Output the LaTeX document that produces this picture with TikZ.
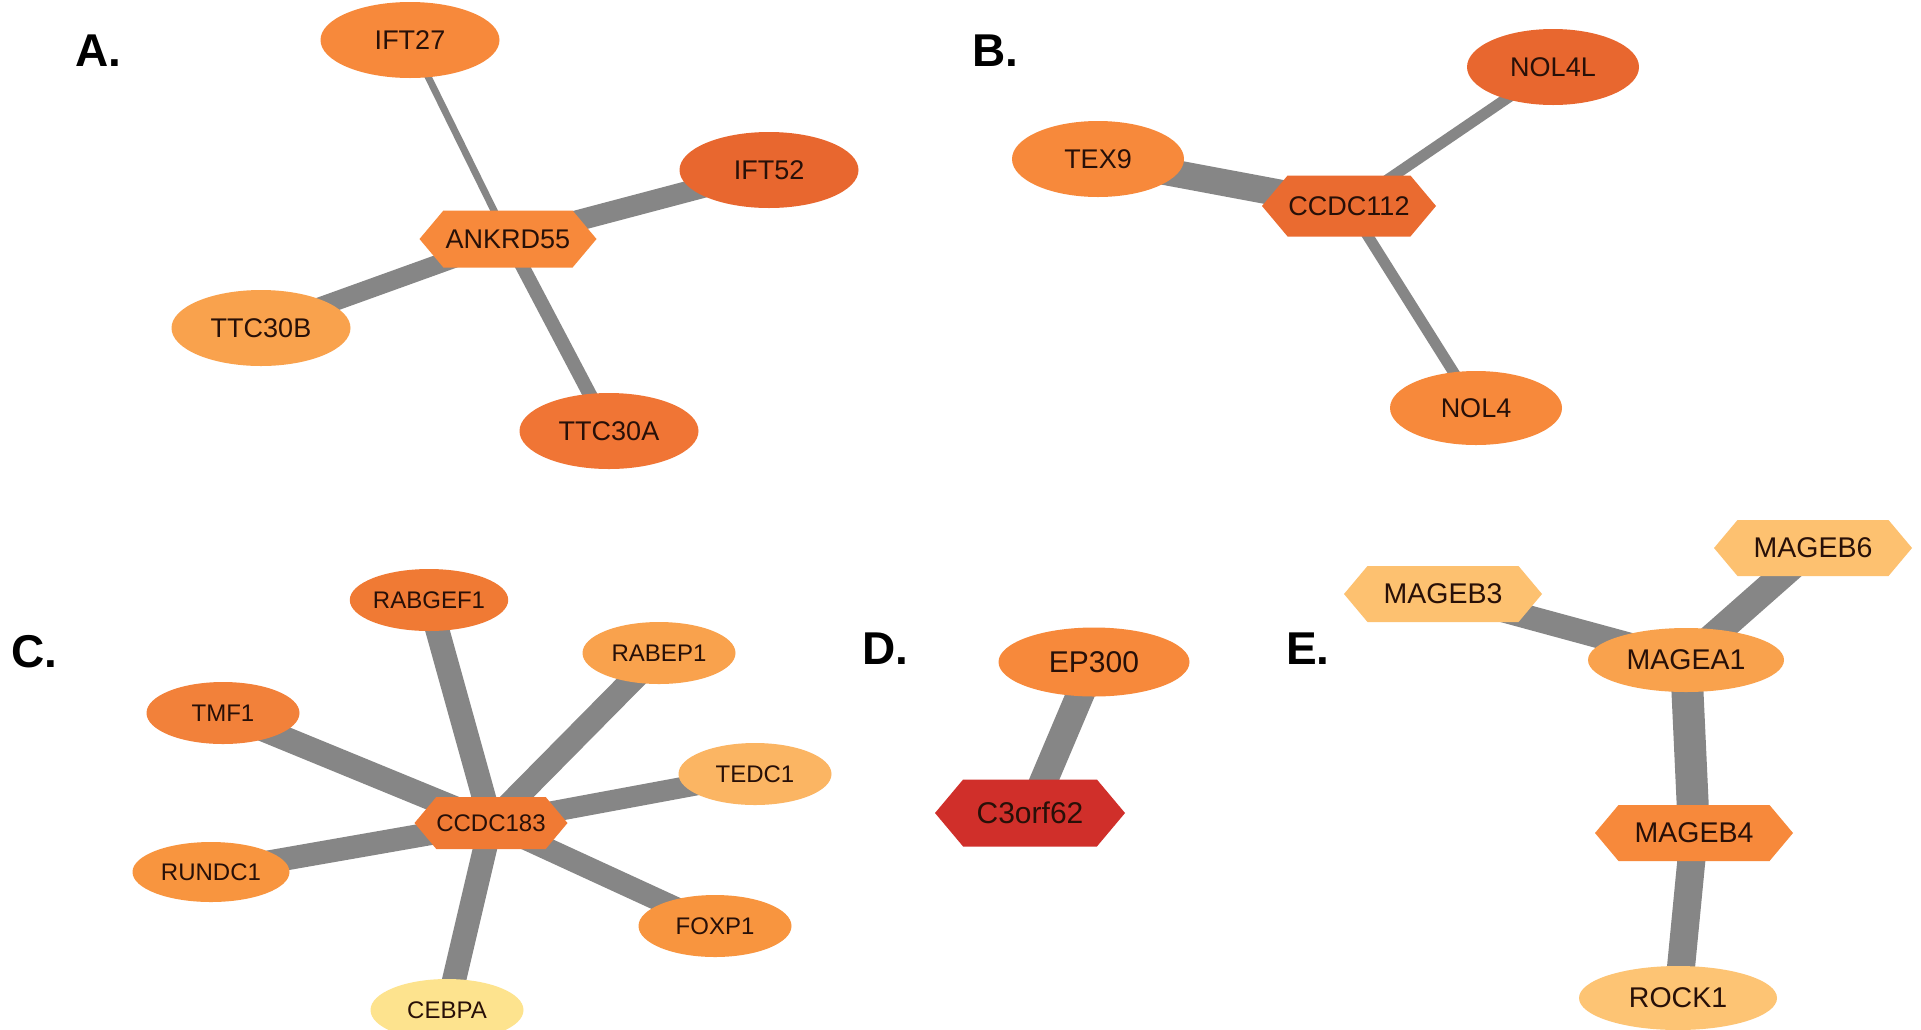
\documentclass[tikz,border=0pt]{standalone}
\usepackage{fontspec}
\setmainfont{Liberation Sans}
\usetikzlibrary{shapes.geometric,shapes.symbols}
\pgfdeclarelayer{bg}
\pgfdeclarelayer{edges}
\pgfsetlayers{bg,edges,main}
\definecolor{edgegray}{RGB}{134,134,134}
\definecolor{cOr}{RGB}{247,137,59}
\definecolor{cDark}{RGB}{232,103,47}
\definecolor{cTTA}{RGB}{240,117,53}
\definecolor{cCC}{RGB}{234,107,48}
\definecolor{cLight}{RGB}{249,162,77}
\definecolor{cTedc}{RGB}{251,181,99}
\definecolor{cMid}{RGB}{248,149,63}
\definecolor{cCeb}{RGB}{253,227,142}
\definecolor{cRab}{RGB}{240,122,52}
\definecolor{cTmf}{RGB}{242,129,58}
\definecolor{cRed}{RGB}{208,47,42}
\definecolor{cPale}{RGB}{253,193,112}
\definecolor{cRock}{RGB}{253,196,116}
\definecolor{txt}{RGB}{40,16,8}
\tikzset{
  gene/.style={ellipse, draw=none, fill=#1, inner sep=0pt, text=txt},
  hexa/.style={signal, signal to=west and east, signal pointer angle=100, draw=none, fill=#1, inner sep=0pt, text=txt},
  link/.style={draw=edgegray, line width=#1},
  panel/.style={font=\bfseries\fontsize{46}{50}\selectfont, text=black},
  fA/.style={font=\fontsize{27}{29}\selectfont},
  fC/.style={font=\fontsize{24}{26}\selectfont},
  fD/.style={font=\fontsize{30}{32}\selectfont},
  fE/.style={font=\fontsize{28.5}{30}\selectfont},
  big/.style={minimum width=179pt, minimum height=76pt},
  mid/.style={minimum width=153pt, minimum height=62pt},
  hexbig/.style={minimum width=177pt, minimum height=57pt},
  hexE/.style={minimum width=198pt, minimum height=56pt}
}
\begin{document}
\begin{tikzpicture}[x=1pt,y=-1pt]
\begin{pgfonlayer}{bg}
\fill[white] (0,0) rectangle (1921,1029);
\end{pgfonlayer}
\useasboundingbox (0,0) rectangle (1921,1029);

% panel labels
\node[panel] (lA) at (98,51) {A.};
\node[panel] (lB) at (995,51) {B.};
\node[panel] (lC) at (34,652) {C.};
\node[panel] (lD) at (885,649) {D.};
\node[panel] (lE) at (1308,649) {E.};

% Panel A
\node[gene=cOr, big, fA] (ift27) at (410,40) {IFT27};
\node[gene=cDark, big, fA] (ift52) at (769,170) {IFT52};
\node[hexa=cOr, hexbig, fA] (ankrd55) at (508,239) {ANKRD55};
\node[gene=cLight, big, fA] (ttc30b) at (261,328) {TTC30B};
\node[gene=cTTA, big, fA] (ttc30a) at (609,431) {TTC30A};

% Panel B
\node[gene=cDark, minimum width=172pt, minimum height=76pt, fA] (nol4l) at (1553,67) {NOL4L};
\node[gene=cOr, minimum width=172pt, minimum height=76pt, fA] (tex9) at (1098,159) {TEX9};
\node[hexa=cCC, minimum width=174pt, minimum height=61pt, fA] (ccdc112) at (1349,206) {CCDC112};
\node[gene=cOr, minimum width=172pt, minimum height=74pt, fA] (nol4) at (1476,408) {NOL4};

% Panel C
\node[gene=cRab, mid, fC] (rabgef1) at (429,600) {RABGEF1};
\node[gene=cLight, mid, fC] (rabep1) at (659,653) {RABEP1};
\node[gene=cTmf, mid, fC] (tmf1) at (223,713) {TMF1};
\node[gene=cTedc, mid, fC] (tedc1) at (755,774) {TEDC1};
\node[hexa=cRab, minimum width=149pt, minimum height=52pt, fC] (ccdc183) at (491,823) {CCDC183};
\node[gene=cMid, minimum width=157pt, minimum height=60pt, fC] (rundc1) at (211,872) {RUNDC1};
\node[gene=cMid, mid, fC] (foxp1) at (715,926) {FOXP1};
\node[gene=cCeb, mid, fC] (cebpa) at (447,1010) {CEBPA};

% Panel D
\node[gene=cOr, minimum width=191pt, minimum height=69pt, fD] (ep300) at (1094,662) {EP300};
\node[hexa=cRed, minimum width=190pt, minimum height=67pt, fD] (c3orf62) at (1030,813) {C3orf62};

% Panel E
\node[hexa=cPale, hexE, fE] (mageb6) at (1813,548) {MAGEB6};
\node[hexa=cPale, hexE, fE] (mageb3) at (1443,594) {MAGEB3};
\node[gene=cLight, minimum width=196pt, minimum height=64pt, fE] (magea1) at (1686,660) {MAGEA1};
\node[hexa=cOr, hexE, fE] (mageb4) at (1694,833) {MAGEB4};
\node[gene=cRock, minimum width=198pt, minimum height=64pt, fE] (rock1) at (1678,998) {ROCK1};

\begin{pgfonlayer}{edges}
% A
\draw[link=7pt] (ankrd55.center) -- (ift27.center);
\draw[link=21pt] (ankrd55.center) -- (ift52.center);
\draw[link=19pt] (ankrd55.center) -- (ttc30b.center);
\draw[link=14pt] (ankrd55.center) -- (ttc30a.center);
% B
\draw[link=27pt] (ccdc112.center) -- (tex9.center);
\draw[link=11pt] (ccdc112.center) -- (nol4l.center);
\draw[link=11pt] (ccdc112.center) -- (nol4.center);
% C
\draw[link=24pt] (ccdc183.center) -- (rabgef1.center);
\draw[link=24pt] (ccdc183.center) -- (rabep1.center);
\draw[link=24pt] (ccdc183.center) -- (tmf1.center);
\draw[link=21pt] (ccdc183.center) -- (tedc1.center);
\draw[link=23pt] (ccdc183.center) -- (rundc1.center);
\draw[link=22pt] (ccdc183.center) -- (foxp1.center);
\draw[link=24pt] (ccdc183.center) -- (cebpa.center);
% D
\draw[link=28pt] (ep300.center) -- (c3orf62.center);
% E
\draw[link=24pt] (magea1.center) -- (mageb3.center);
\draw[link=27pt] (magea1.center) -- (mageb6.center);
\draw[link=32pt] (magea1.center) -- (mageb4.center);
\draw[link=28pt] (mageb4.center) -- (rock1.center);
\end{pgfonlayer}
\end{tikzpicture}
\end{document}
